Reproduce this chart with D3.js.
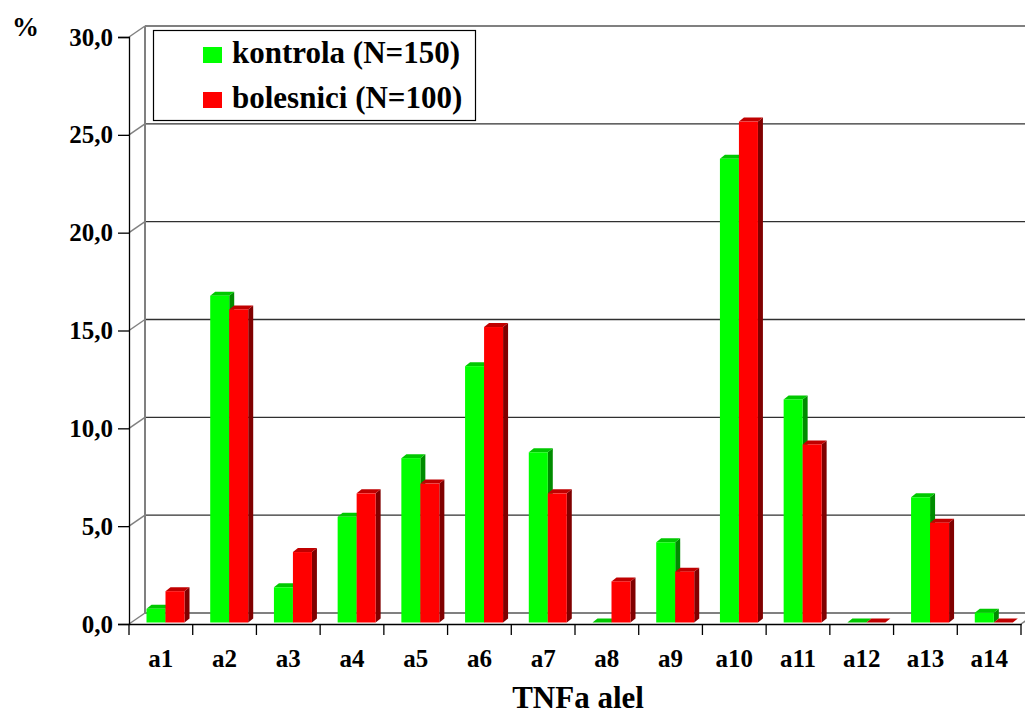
<!DOCTYPE html>
<html>
<head>
<meta charset="utf-8">
<title>TNFa alel</title>
<script src="https://d3js.org/d3.v7.min.js"></script>
<style>
  body { margin: 0; background: #fff; }
  svg text { font-family: "Liberation Serif", "Times New Roman", Times, "DejaVu Serif", serif !important; font-weight: bold; fill: #000; }
</style>
</head>
<body>
<svg width="1025" height="714"></svg>
<script>
// data
var categories = ["a1","a2","a3","a4","a5","a6","a7","a8","a9","a10","a11","a12","a13","a14"];
var kontrola  = [0.7, 16.7, 1.8, 5.4, 8.4, 13.1, 8.7, 0.0, 4.1, 23.7, 11.4, 0.0, 6.4, 0.5];
var bolesnici = [1.6, 16.0, 3.6, 6.6, 7.1, 15.1, 6.6, 2.1, 2.6, 25.6, 9.1, 0.0, 5.1, 0.0];
var seriesNames = ["kontrola (N=150)", "bolesnici (N=100)"];
var yTicks = [0, 5, 10, 15, 20, 25, 30];

var colors = [
  { front: "#00ff00", top: "#00c800", side: "#008c00" },
  { front: "#ff0000", top: "#c00000", side: "#800000" }
];

var svg = d3.select("svg");

// front plane and 3d offset of the back wall
var left = 129, right = 1021, depthX = 16, depthY = -11;
var y = d3.scaleLinear().domain([0, 30]).range([624, 37]);
var yBar = d3.scaleLinear().domain([0, 30]).range([622.5, 622.5 - 587]);
var x = d3.scaleBand().domain(categories).range([left, right]);
var xSub = d3.scaleBand().domain([0, 1]).range([17.5, 55.5]);
var bdx = 5, bdy = -4;

var fmt = function (v) { return d3.format(".1f")(v).replace(".", ","); };

// back wall gridlines
var grid = svg.append("g");
yTicks.forEach(function (t) {
  var yy = y(t) + depthY;
  var col = (t === 0 || t === 30) ? "#808080" : "#303030";
  var w = (t === 0 || t === 30) ? 2 : 1.3;
  grid.append("line")
    .attr("x1", left + depthX).attr("x2", right + depthX)
    .attr("y1", yy).attr("y2", yy)
    .attr("stroke", col).attr("stroke-width", w);
  grid.append("line")
    .attr("x1", left).attr("y1", y(t))
    .attr("x2", left + depthX).attr("y2", yy)
    .attr("stroke", "#808080").attr("stroke-width", 1.5);
});
grid.append("line")
  .attr("x1", left + depthX).attr("x2", left + depthX)
  .attr("y1", y(30) + depthY).attr("y2", y(0) + depthY)
  .attr("stroke", "#808080").attr("stroke-width", 2);
grid.append("line")
  .attr("x1", right).attr("y1", y(0))
  .attr("x2", right + depthX).attr("y2", y(0) + depthY)
  .attr("stroke", "#808080").attr("stroke-width", 1.5);

// front axes
var yAxis = d3.axisLeft(y).tickValues(yTicks).tickSize(11).tickPadding(5).tickFormat(fmt);
var gy = svg.append("g").attr("transform", "translate(" + left + ",0)").call(yAxis);
gy.select(".domain").attr("stroke", "#000").attr("stroke-width", 1.3);
gy.selectAll(".tick line").attr("stroke", "#000").attr("stroke-width", 1.3);
gy.selectAll(".tick text").attr("font-size", 25);

var xAxis = d3.axisBottom(x).tickSize(0).tickPadding(25);
var gx = svg.append("g").attr("transform", "translate(0," + y(0) + ")").call(xAxis);
gx.select(".domain").attr("stroke", "#000").attr("stroke-width", 1.5);
gx.selectAll(".tick text").attr("font-size", 25);
// category separator ticks
var bounds = categories.map(function (c) { return x(c); }).concat([right]);
gx.selectAll(".sep").data(bounds).enter().append("line")
  .attr("x1", function (d) { return d; }).attr("x2", function (d) { return d; })
  .attr("y1", 0).attr("y2", 11)
  .attr("stroke", "#000").attr("stroke-width", 1.3);

// 3d bars
var data = [kontrola, bolesnici];
var bars = svg.append("g");
categories.forEach(function (c, i) {
  data.forEach(function (vals, s) {
    var x0 = x(c) + xSub(s), w = xSub.bandwidth();
    var yb = yBar(0), yt = yBar(vals[i]);
    var col = colors[s];
    var g = bars.append("g");
    g.append("polygon")
      .attr("points", [[x0 + w, yt], [x0 + w + bdx, yt + bdy], [x0 + w + bdx, yb + bdy], [x0 + w, yb]].join(" "))
      .attr("fill", col.side);
    g.append("polygon")
      .attr("points", [[x0, yt], [x0 + bdx, yt + bdy], [x0 + w + bdx, yt + bdy], [x0 + w, yt]].join(" "))
      .attr("fill", col.top);
    if (yb - yt > 0.5) {
      g.append("rect")
        .attr("x", x0).attr("y", yt).attr("width", w).attr("height", yb - yt)
        .attr("fill", col.front);
    }
  });
});

// labels
svg.append("text").attr("x", 12).attr("y", 36).attr("font-size", 27).text("%");
svg.append("text").attr("x", 578).attr("y", 708).attr("text-anchor", "middle")
  .attr("font-size", 31).text("TNFa alel");

// legend
var legend = svg.append("g");
legend.append("rect").attr("x", 153.5).attr("y", 30.5).attr("width", 322).attr("height", 90)
  .attr("fill", "#fff").attr("stroke", "#000").attr("stroke-width", 1.2);
seriesNames.forEach(function (n, s) {
  var ly = 63 + s * 45;
  legend.append("rect").attr("x", 203).attr("y", ly - 16).attr("width", 19).attr("height", 16)
    .attr("fill", colors[s].front);
  legend.append("text").attr("x", 232).attr("y", ly).attr("font-size", 31).text(n);
});
</script>
</body>
</html>
